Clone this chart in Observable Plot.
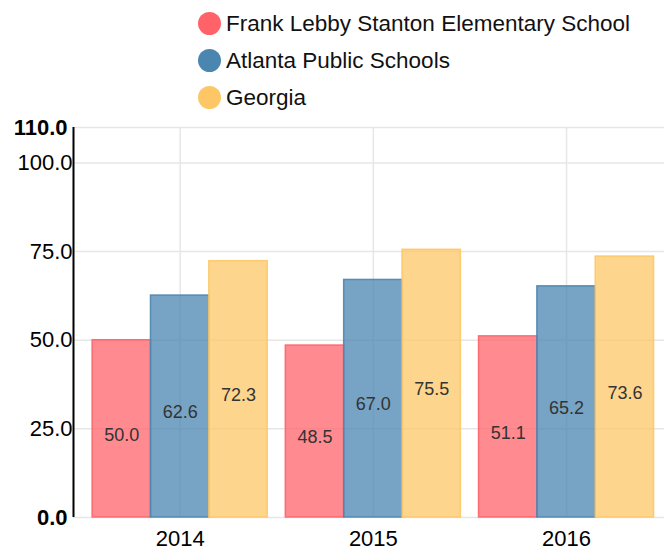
<!DOCTYPE html>
<html><head><meta charset="utf-8">
<script src="https://cdn.jsdelivr.net/npm/d3@7"></script>
<script src="https://cdn.jsdelivr.net/npm/@observablehq/plot@0.6"></script>
<style>
html,body{margin:0;padding:0;background:#fff;overflow:hidden}
body{font-family:"Liberation Sans",Arial,sans-serif;width:664px;height:550px}
#legend{height:110px;box-sizing:border-box;padding-top:5px;padding-left:198px}
.row{display:flex;align-items:center;height:37px;font-size:22.5px;color:#111}
.dot{width:23px;height:23px;border-radius:50%;margin-right:5px;flex:none}
#chart svg{overflow:visible;display:block}
</style></head><body>
<div id="legend"></div><div id="chart"></div>
<script>
const years = [2014, 2015, 2016];
const series = ["Frank Lebby Stanton Elementary School", "Atlanta Public Schools", "Georgia"];
const frankValues = [50.0, 48.5, 51.1];
const apsValues = [62.6, 67.0, 65.2];
const georgiaValues = [72.3, 75.5, 73.6];
const colors = ["#ff6369", "#4a86b0", "#fdc766"];
const yTicks = [0, 25, 50, 75, 100, 110];

const seriesValues = [frankValues, apsValues, georgiaValues];
const table = [];
years.forEach((year, yi) => {
  series.forEach((s, si) => {
    table.push({year, series: s, si, value: seriesValues[si][yi]});
  });
});

// legend
const legend = document.getElementById("legend");
series.forEach((s, i) => {
  const row = document.createElement("div");
  row.className = "row";
  const dot = document.createElement("span");
  dot.className = "dot";
  dot.style.background = colors[i];
  const label = document.createElement("span");
  label.textContent = s;
  row.appendChild(dot); row.appendChild(label);
  legend.appendChild(row);
});

const bw = 0.302; // bar width in year units
const xDomain = [2013.448, 2016.507];
const font = "Liberation Sans, Arial, sans-serif";

const chart = Plot.plot({
  width: 664,
  height: 440,
  marginLeft: 73,
  marginRight: 0,
  marginTop: 17,
  marginBottom: 33,
  style: {fontFamily: font, background: "transparent", overflow: "visible"},
  x: {type: "linear", domain: xDomain, axis: null},
  y: {domain: [0, 110], axis: null},
  color: {domain: series, range: colors},
  marks: [
    Plot.ruleY(yTicks, {stroke: "#e6e6e6", strokeWidth: 1.5}),
    Plot.ruleX(years, {stroke: "#e6e6e6", strokeWidth: 1.5}),
    Plot.rect(table, {
      x1: d => d.year + (d.si - 1.5) * bw,
      x2: d => d.year + (d.si - 0.5) * bw,
      y1: 0,
      y2: "value",
      fill: "series",
      fillOpacity: 0.75,
      stroke: "series",
      strokeWidth: 1.5,
      strokeOpacity: 0.9
    }),
    Plot.text(table, {
      x: d => d.year + (d.si - 1) * bw,
      y: d => d.value / 2,
      text: d => d.value.toFixed(1),
      dy: 6,
      fontSize: 18,
      fill: "#333"
    }),
    Plot.ruleX([xDomain[0]], {y1: 0, y2: 110, stroke: "#000", strokeWidth: 2}),
    Plot.axisY(yTicks.filter(t => t !== 0 && t !== 110), {
      label: null, tickSize: 0, tickPadding: 1, fontSize: 22, fill: "#000",
      tickFormat: d => d.toFixed(1)
    }),
    Plot.axisY([0, 110], {
      label: null, tickSize: 0, tickPadding: 6, fontSize: 22, fontWeight: "bold", fill: "#000",
      tickFormat: d => d.toFixed(1)
    }),
    Plot.axisX(years, {
      label: null, tickSize: 0, tickPadding: 13, fontSize: 22, fill: "#000",
      tickFormat: d => String(d)
    })
  ]
});
document.getElementById("chart").appendChild(chart);
</script>
</body></html>
